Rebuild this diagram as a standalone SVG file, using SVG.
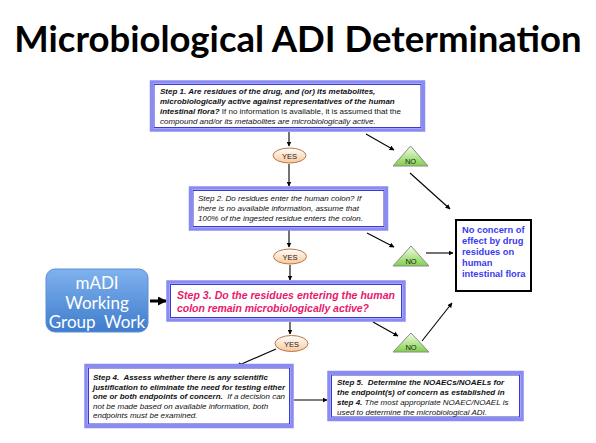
<svg xmlns="http://www.w3.org/2000/svg" width="596" height="443" viewBox="0 0 596 443">
<defs>
  <linearGradient id="gYes" x1="0" y1="0" x2="0" y2="1">
    <stop offset="0" stop-color="#ffffff"/>
    <stop offset="1" stop-color="#f9c89a"/>
  </linearGradient>
  <linearGradient id="gNo" x1="0" y1="0" x2="0" y2="1">
    <stop offset="0" stop-color="#f4ffe8"/>
    <stop offset="1" stop-color="#7fd04a"/>
  </linearGradient>
  <linearGradient id="gMadi" x1="0" y1="0" x2="0" y2="1">
    <stop offset="0" stop-color="#7fb2ee"/>
    <stop offset="1" stop-color="#3f7ccc"/>
  </linearGradient>
  <marker id="ah" viewBox="0 0 10 10" refX="9" refY="5" markerWidth="5" markerHeight="5" markerUnits="userSpaceOnUse" orient="auto">
    <path d="M0,0 L10,5 L0,10 z" fill="#000"/>
  </marker>
  <marker id="ahBig" viewBox="0 0 10 10" refX="9" refY="5" markerWidth="9" markerHeight="9" markerUnits="userSpaceOnUse" orient="auto">
    <path d="M0,0 L10,5 L0,10 z" fill="#000"/>
  </marker>
</defs>
<style>
  .outer { fill: #ffffff; stroke: #8a8af5; stroke-width: 3.5; }
  .inner { fill: #ffffff; stroke: #3a3acc; stroke-width: 1; }
  .st { font-family: "Liberation Sans", Arial, sans-serif; font-size: 8px; fill: #111; font-style: italic; }
  .b { font-weight: bold; }
  .n { font-weight: normal; }
  .conn line, .conn path { stroke: #000; stroke-width: 1.1; fill: none; marker-end: url(#ah); }
  .yes ellipse { fill: url(#gYes); stroke: #b5784a; stroke-width: 1; }
  .lbl { font-family: "Liberation Sans", Arial, sans-serif; font-size: 7.5px; fill: #222; text-anchor: middle; }
  .no polygon { fill: url(#gNo); stroke: #8a8a8a; stroke-width: 1; }
</style>
<rect width="596" height="443" fill="#ffffff"/>

<text x="298" y="52" text-anchor="middle" font-family="Lato, 'Open Sans', sans-serif" font-weight="bold" font-size="36.5" fill="#000">Microbiological ADI Determination</text>

<g class="conn">
  <line x1="289" y1="132" x2="289" y2="146"/>
  <line x1="289" y1="164" x2="289" y2="186"/>
  <line x1="289" y1="230" x2="289" y2="247"/>
  <line x1="290" y1="265" x2="290" y2="280"/>
  <line x1="290" y1="322" x2="290" y2="334"/>
  <line x1="276" y1="349" x2="237" y2="366"/>
  <line x1="294" y1="400" x2="327" y2="400"/>
  <line x1="366" y1="134" x2="394" y2="150"/>
  <line x1="410" y1="173" x2="450" y2="209"/>
  <line x1="367" y1="233" x2="394" y2="247"/>
  <line x1="426" y1="253" x2="453" y2="253"/>
  <line x1="373" y1="322" x2="398" y2="336"/>
  <line x1="422" y1="341" x2="452" y2="303"/>
  <line x1="150" y1="301" x2="166" y2="301" style="stroke-width:3;marker-end:url(#ahBig)"/>
</g>

<g id="step1">
  <rect class="outer" x="151.5" y="82" width="272" height="48"/>
  <rect class="inner" x="154" y="84.5" width="267" height="43"/>
  <text class="st b" x="160" y="94">Step 1. Are residues of the drug, and (or) its metabolites,</text>
  <text class="st b" x="160" y="104">microbiologically active against representatives of the human</text>
  <text class="st" x="160" y="114"><tspan class="b">intestinal flora?</tspan><tspan class="n" font-style="normal"> If no information is available, it is assumed that the</tspan></text>
  <text class="st" x="160" y="124" font-style="normal">compound and/or its metabolites are microbiologically active.</text>
</g>

<g id="yes1" class="yes">
  <ellipse cx="289.5" cy="155.5" rx="16.5" ry="7.5"/>
  <text class="lbl" x="289.5" y="158.5">YES</text>
</g>

<g id="no1" class="no">
  <polygon points="410.5,146 428,166 393,166"/>
  <text class="lbl" x="410.5" y="163.5">NO</text>
</g>

<g id="step2">
  <rect class="outer" x="190.5" y="188" width="196" height="41"/>
  <rect class="inner" x="193" y="190.5" width="191" height="36"/>
  <text class="st" x="198" y="201" font-size="7">Step 2. Do residues enter the human colon? If</text>
  <text class="st" x="198" y="211" font-size="7">there is no available information, assume that</text>
  <text class="st" x="198" y="221" font-size="7">100% of the ingested residue enters the colon.</text>
</g>

<g id="yes2" class="yes">
  <ellipse cx="290" cy="256.5" rx="16.5" ry="7.5"/>
  <text class="lbl" x="290" y="259.5">YES</text>
</g>

<g id="no2" class="no">
  <polygon points="411,246 429,266 393,266"/>
  <text class="lbl" x="411" y="263.5">NO</text>
</g>

<g id="madi">
  <rect x="46" y="269" width="102" height="63" rx="9" ry="9" fill="url(#gMadi)" stroke="#5b8fd6" stroke-width="1"/>
  <text x="97" y="289" text-anchor="middle" font-family="Lato, 'Liberation Sans', sans-serif" font-size="17" fill="#ffffff">mADI</text>
  <text x="97" y="309" text-anchor="middle" font-family="Lato, 'Liberation Sans', sans-serif" font-size="17" fill="#ffffff">Working</text>
  <text x="97" y="328" text-anchor="middle" font-family="Lato, 'Liberation Sans', sans-serif" font-size="17" fill="#ffffff" xml:space="preserve">Group  Work</text>
</g>

<g id="step3">
  <rect class="outer" x="168" y="282" width="236" height="38"/>
  <rect class="inner" x="170.5" y="284.5" width="231" height="33"/>
  <text x="177" y="299" font-family="'Liberation Sans', Arial, sans-serif" font-size="10.5" font-weight="bold" font-style="italic" fill="#e8196a" textLength="218" lengthAdjust="spacing">Step 3. Do the residues entering the human</text>
  <text x="177" y="312" font-family="'Liberation Sans', Arial, sans-serif" font-size="10.5" font-weight="bold" font-style="italic" fill="#e8196a" textLength="192" lengthAdjust="spacing">colon remain microbiologically active?</text>
</g>

<g id="yes3" class="yes">
  <ellipse cx="291.5" cy="343.5" rx="16.5" ry="8"/>
  <text class="lbl" x="291.5" y="346.5">YES</text>
</g>

<g id="no3" class="no">
  <polygon points="411,333 429,352 393,352"/>
  <text class="lbl" x="411" y="349.5">NO</text>
</g>

<g id="noconcern">
  <rect x="456" y="220" width="75" height="71" fill="#ffffff" stroke="#000" stroke-width="2"/>
  <g font-family="'Liberation Sans', Arial, sans-serif" font-size="9.3" font-weight="bold" fill="#3a3af0">
    <text x="462" y="233">No concern of</text>
    <text x="462" y="244">effect by drug</text>
    <text x="462" y="255">residues on</text>
    <text x="462" y="266">human</text>
    <text x="462" y="277">intestinal flora</text>
  </g>
</g>

<g id="step4">
  <rect class="outer" x="86" y="365.5" width="206" height="61"/>
  <rect class="inner" x="88.5" y="368" width="201" height="56"/>
  <text class="st b" x="93" y="380" xml:space="preserve">Step 4.  Assess whether there is any scientific</text>
  <text class="st b" x="93" y="389.5">justification to eliminate the need for testing either</text>
  <text class="st" x="93" y="399" xml:space="preserve"><tspan class="b">one or both endpoints of concern.</tspan><tspan class="n">  If a decision can</tspan></text>
  <text class="st" x="93" y="408.5">not be made based on available information, both</text>
  <text class="st" x="93" y="418">endpoints must be examined.</text>
</g>

<g id="step5">
  <rect class="outer" x="329" y="372.5" width="193" height="47"/>
  <rect class="inner" x="331.5" y="375" width="188" height="42"/>
  <text class="st b" x="337" y="385" xml:space="preserve">Step 5.  Determine the NOAECs/NOAELs for</text>
  <text class="st b" x="337" y="395">the endpoint(s) of concern as established in</text>
  <text class="st" x="337" y="405"><tspan class="b">step 4.</tspan><tspan class="n"> The most appropriate NOAEC/NOAEL is</tspan></text>
  <text class="st" x="337" y="415">used to determine the microbiological ADI.</text>
</g>
</svg>
